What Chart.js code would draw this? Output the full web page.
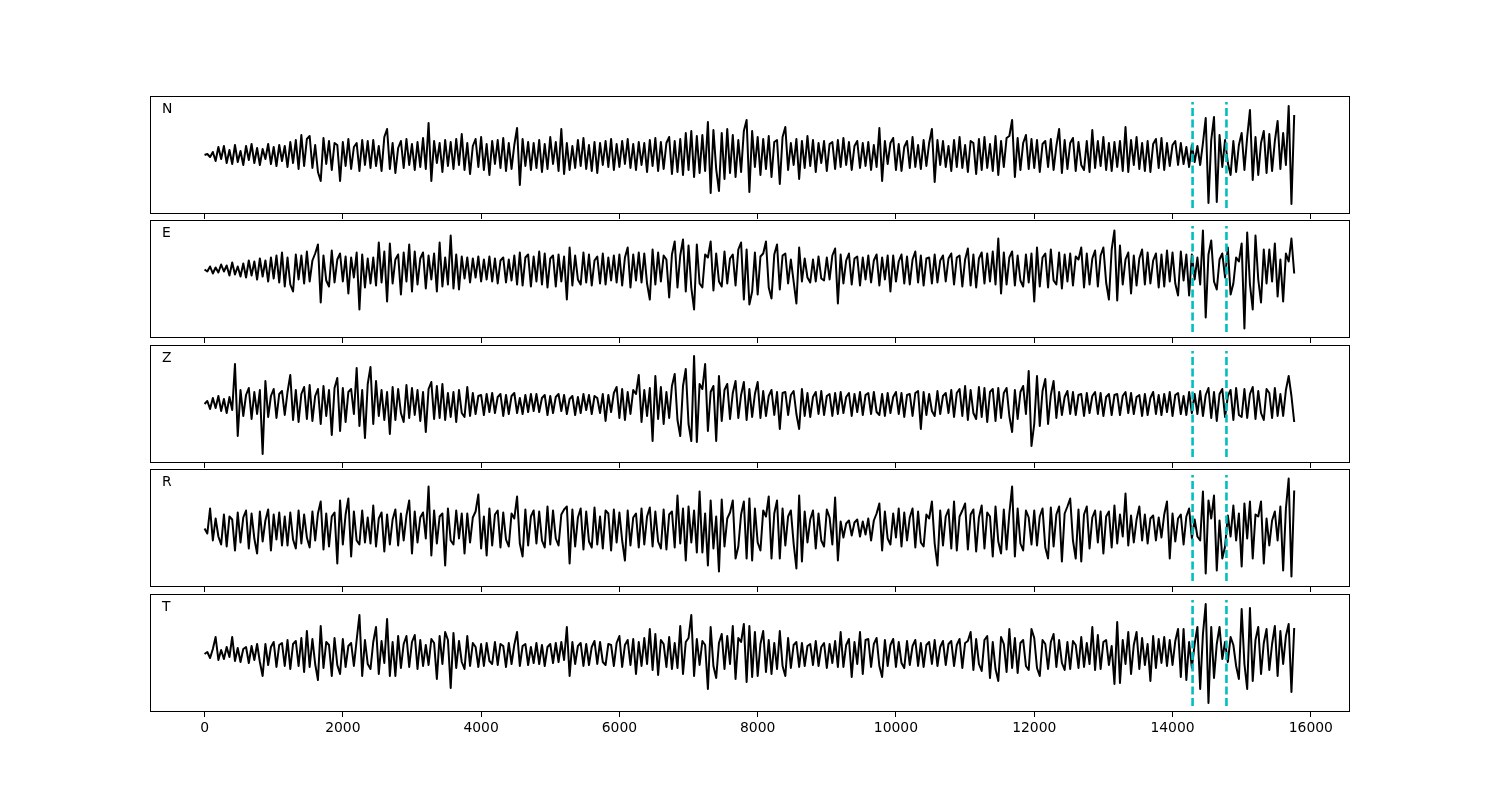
<!DOCTYPE html>
<html>
<head>
<meta charset="utf-8">
<script src="https://cdn.jsdelivr.net/npm/chart.js@4.4.1/dist/chart.umd.min.js"></script>
<style>
  body { margin: 0; background: #fff; }
  #wrap { position: relative; width: 1500px; height: 800px; }
  #wrap canvas { position: absolute; left: 0; }
</style>
</head>
<body>
<div id="wrap"></div>
<script>
// samples between stored points
const sampleStep = 40;
const tickValues = [0, 2000, 4000, 6000, 8000, 10000, 12000, 14000, 16000];
// picks (dashed cyan)
const pickTimes = [14290, 14780];
const channelNames = ['N', 'E', 'Z', 'R', 'T'];

// trace amplitudes, one value every 40 samples
const traceN = [
  0, 1, -2, 3, -6, 8, -4, 9, -8, 5, -9, 10, -7, 4, -10, 9, -5, 11, -8, 7, -10, 6, -4, 11, -9, 8, -11, 10, -6, 9,
  -12, 13, -8, 15, -14, 20, -11, 16, 19, -13, 10, -17, -26, 17, -9, 14, -15, 12, 10, -26, 13, -11, 16, -14, 8, 12, -16, 15, -10, 14,
  -13, 15, -11, 9, -16, 18, 26, -14, 12, -18, 7, 14, -13, 16, -10, 11, -15, 13, -12, 17, -14, 32, -26, 14, -8, 12, -17, 15, -11, 13,
  -14, 16, -10, 21, -15, 12, -19, 9, 16, -12, 18, -15, 11, -20, 14, -9, 15, -13, 17, -16, 12, -14, 10, 27, -30, 16, -11, 13, -15, 12,
  -13, 15, -17, 11, -14, 18, -9, 13, -16, 26, -19, 12, -15, 9, -13, 15, -11, 17, -14, 10, -16, 13, -18, 12, -10, 14, -12, 16, -15, 11,
  -12, 14, -9, 16, -13, 11, -15, 13, -10, 12, -17, 15, -11, 17, -16, 13, -14, 12, 18, -19, 14, -17, 16, -20, 22, -15, 24, -22, 19, -18,
  20, -16, 33, -38, 25, -14, -36, 22, -24, 26, -18, 20, -22, 15, -17, 24, 35, -37, 24, -12, 18, -20, 16, -14, 19, -22, 13, 15, -29, 18,
  28, -15, 12, -10, 16, -24, 14, -13, 19, -11, 15, -17, 12, -8, 14, -16, 11, 13, -14, 15, -12, 17, -10, 13, -15, 9, 14, -13, 12, -11,
  13, -15, 10, -12, 27, -26, 14, -9, 12, 17, -15, 11, -16, 8, 14, -13, 18, -12, 10, -14, 15, -11, 12, 26, -27, 15, -10, 14, -12, 9,
  -16, 15, -12, 18, -13, 10, -17, 14, 12, -19, 16, -15, 18, -13, 11, -16, 19, -20, 14, -12, 17, 19, 35, -22, 17, -15, 12, 20, -14, 16,
  -13, 15, -17, 11, 14, -12, 16, -15, 9, 26, -18, 15, -14, 12, 17, -16, 13, -10, -15, 14, -17, 25, -13, 14, -11, 18, -15, 12, -16, 13,
  -12, 14, -16, 28, -17, 15, -10, 18, -14, 12, -16, 14, -17, 11, 16, -13, 17, -15, 12, -11, 10, 14, -10, 12, -9, 8, -12, 10, -7, 9,
  -10, 12, 37, -48, 15, 38, -47, 20, -12, 15, -8, -20, 14, -17, 10, 22, -15, 18, 45, -25, 18, -20, 12, 24, -18, 21, -16, 14, 34, -14,
  22, -10, 49, -49, 40
];
const traceE = [
  0, -2, 3, -4, 2, -3, 5, -2, 4, -6, 7, -5, 3, -7, 6, -8, 9, -6, 8, -10, 11, -7, 9, -12, 12, -9, 14, -13, 17, -17,
  12, -15, -22, 15, -10, 14, -14, 18, -12, 9, 16, 25, -33, 14, -11, -17, 19, -13, 10, 16, -12, 13, -24, 12, -8, 17, -40, 15, -18, 11,
  -14, 12, -16, 27, -13, 18, -32, 26, -14, 10, 15, -25, 17, -12, 25, -22, 18, -15, 11, 17, -19, 14, -10, 16, -22, 27, -17, 12, -15, 34,
  -19, 15, -20, 13, -9, 12, -13, 11, -8, 13, -12, 10, -10, 13, -12, 11, -14, 9, 12, -13, 10, -11, 14, -15, 17, -16, 12, 15, -17, 13,
  -12, 18, -15, 16, -18, 11, 14, -17, 15, -12, 13, -30, 22, -16, 14, -10, -15, 17, -13, 15, -16, 9, 13, -14, 16, -15, 12, -11, 14, -13,
  15, -16, 12, 22, -18, 15, -11, 17, -13, 16, -14, -30, 20, -15, 17, -12, 14, 10, -28, 15, 28, -18, 14, 30, -22, 24, -18, -40, 25, -14,
  -18, 15, 12, 28, -21, 16, -12, -17, 18, -14, 11, 15, -16, 20, 27, -30, 20, -35, -22, 17, -25, 13, 16, 28, -18, -29, 15, 25, -20, 14,
  16, -14, 10, -12, -34, 22, -12, 11, -8, -13, 10, -12, 13, -9, -11, 12, -10, 14, 21, -34, 15, -14, 9, 16, -15, 11, 13, -16, 12, -10,
  14, -13, 9, 15, -16, 12, -10, 14, -22, 14, -12, 8, 15, -14, 13, -15, 10, 18, -13, 14, -16, 11, 12, -14, 15, -13, 9, 14, -12, 11,
  16, -15, 12, 14, -17, 10, 21, -16, 15, -18, 11, 17, -14, 16, -12, 18, -15, 31, -24, 17, -15, 12, 18, -16, 14, -11, -17, 15, -13, 16,
  -32, 22, -17, 12, 16, -18, 20, -11, -15, 17, -19, 15, -12, 16, -16, 13, 10, 22, -18, 16, -15, 11, 19, -17, 14, 22, -13, -30, 20, 39,
  -31, 24, -15, 10, 17, -24, 14, -16, 11, 20, -15, 17, -14, 9, 16, -18, 15, -17, 19, -12, 17, -14, -26, 18, -11, 15, -26, 15, -10, 12,
  -15, 39, -48, 15, 29, -12, -20, 10, 16, -8, 22, -25, -14, 12, 8, 26, -59, 37, -15, -40, 34, -10, -33, 20, -14, 20, -12, 26, -27, 10,
  -32, 16, 8, 31, -4
];
const traceZ = [
  0, 3, -5, 6, -4, 8, -7, 5, -9, 7, -6, 40, -32, 14, -12, 9, 16, -15, 12, -10, 14, -50, 23, -13, 8, 15, -14, 10, 13, -11,
  12, 29, -16, 14, -18, 10, 17, -15, 19, -17, 8, 15, -20, 18, -12, 14, -31, 16, 26, -27, 16, -18, 12, 15, -10, 36, -22, 14, -34, 20,
  37, -20, 23, -12, 14, -16, 12, -30, 17, -16, 15, -9, -18, 19, -14, 16, -11, 14, -17, 12, -28, 15, 22, -15, 18, -14, 20, -16, 11, -13,
  12, -18, 14, -9, -13, 17, -12, 11, -10, 8, 9, -11, 10, -8, 11, -9, 7, 10, -12, 9, -10, 8, 11, -9, 6, -10, 9, -8, 10, -7,
  10, -8, 6, 9, -11, 8, -9, 7, 10, -7, 9, -10, 5, 8, -11, 7, -9, 10, -6, 9, -10, 8, 6, -9, 10, -17, 9, -8, 11, 17,
  -14, 15, -16, 12, -10, 14, 10, 29, -18, 14, -12, 16, -37, 28, -15, 17, -20, 12, -14, 18, 30, -16, -32, 18, 35, -20, -37, 48, -38, 20,
  15, 40, -27, 12, 18, -37, 28, -17, 14, 20, -15, 11, 23, -14, 9, 22, -16, 15, -13, 10, 22, -14, 13, -12, 8, 14, -11, 12, -25, 11,
  12, -11, 9, 13, -10, -25, 15, -12, 11, -13, 7, 12, -10, 13, -11, 8, 10, -12, 11, -10, 12, -9, 7, 11, -12, 10, -8, 12, -11, 9,
  11, -10, 12, -8, -11, 10, -12, 11, -9, 7, 12, -10, 11, -13, 9, 10, -12, 11, 13, -25, 12, -11, 10, -7, -12, 13, -10, 8, 11, -9,
  14, -13, 11, 15, -12, 18, -16, 14, -9, -15, 17, -13, 16, -18, 12, 15, -17, 16, -14, 11, 16, -12, -28, 14, -15, 12, 18, -10, 33, -42,
  -20, 28, -22, 13, 25, -20, 9, 23, -14, 12, -11, 7, 13, -10, 12, -11, 9, 10, -12, 11, -9, 8, 12, -10, 11, -12, 7, 10, -11, 9,
  10, -11, 8, 12, -9, 11, -10, 7, 9, -12, 10, -11, 6, 12, -10, 9, -11, 10, -8, 12, -12, 9, 11, -10, 8, -11, 12, -9, 10, -10,
  13, -12, 9, 16, -14, 12, -17, 10, 15, -13, 8, 14, -16, 16, -11, -13, 15, -14, 10, 17, -15, 13, -9, -16, 15, 11, -14, 16, -12, 10,
  -12, 14, 28, 8, -18
];
const traceR = [
  0, -5, 20, -12, 10, -8, -16, 14, -18, 12, 9, -22, 16, -14, 11, 18, -20, 15, -10, -25, 17, -13, 8, 19, -22, 14, -11, 16, -17, 12,
  -17, 16, -11, -20, 18, -15, 14, -9, -19, 17, -12, 15, 27, -21, 15, -18, 12, 16, -35, 28, -16, 14, 30, -28, 17, -12, -16, 18, -14, 11,
  -15, 23, -18, 10, 16, -23, 14, -16, 9, 19, -17, 15, -12, 13, 28, -25, 17, -14, 11, 16, -10, 42, -27, 18, -15, 12, 15, -37, 20, -12,
  -16, 18, -10, 15, -25, 15, -14, 11, 17, 34, -20, 12, -27, 20, -17, 14, 18, -19, 16, -11, -18, 15, 10, 32, -15, -28, 19, -17, 12, 18,
  -15, 17, -12, -19, 22, -16, 18, -10, -17, 14, 19, 22, -35, 19, -18, 11, 20, -21, 17, -13, -19, 21, -16, 12, -20, 18, 15, -22, 19, -14,
  16, -12, -32, 18, -17, 11, 15, -19, 20, -16, 12, 21, -18, 17, -13, -20, 19, -21, 14, 17, -19, 33, -15, 20, -32, 22, -14, 18, -24, 37,
  -24, 15, -37, 28, -20, 12, -43, 29, -18, 10, 16, 28, -30, -18, 14, 27, -30, 30, -32, 20, -14, -22, 18, 12, 32, -30, 15, 28, -30, 20,
  -17, 12, 18, -15, -40, 33, -33, 17, -14, 9, 18, -20, 15, -12, -18, 19, 11, -16, 31, -32, 7, -9, 5, 8, -7, 6, 9, -8, 7, -6,
  10, -12, 8, 15, 25, -22, 17, -10, -16, 15, -9, 20, -18, 16, -12, 11, 20, -19, 17, -14, -18, 14, 10, 27, -15, -37, 18, -17, 12, 19,
  -20, 27, -22, 12, 18, 25, -21, 14, 19, -23, 11, 23, -20, 16, 12, -28, 22, -13, -25, 19, -21, 15, 42, -28, 20, -15, -22, 18, 11, -16,
  18, -17, 12, 20, -19, -30, 21, -18, 14, 22, -33, 15, 22, 30, -12, -30, 19, -33, 14, 22, -20, 11, 18, -14, 17, -25, 12, 17, -19, 23,
  -15, 14, -8, 35, -17, 13, -14, 9, 22, -12, 14, -15, 10, 13, -12, 11, -9, 14, 27, -30, 15, -13, 10, 14, -16, 12, 20, -10, 9, -8,
  -12, 37, -45, 28, 10, 33, -42, 8, -30, -18, 13, -8, 23, -12, 15, -38, 25, -10, 27, -30, 14, 12, 27, -35, 10, -17, 8, 17, -12, 22,
  -42, 20, 50, -48, 38
];
const traceT = [
  0, 2, -4, 5, 17, -6, 4, -5, 7, -3, 17, -7, 6, -8, 5, 7, -9, 8, -6, 10, -8, -22, 10, -11, 7, 12, -13, 9, 11, -12,
  14, -15, 10, 13, -12, 16, -18, 23, -13, 15, -10, -26, 28, -14, 12, 9, -22, 16, -11, -20, 15, -13, 8, 11, -12, 14, 39, -22, 14, -10,
  -15, 12, 27, -20, 13, -9, 35, -22, 12, -22, 18, -14, 10, 18, -13, 12, 19, -15, 14, -12, 9, -11, 15, 11, -25, 18, -10, 22, 14, -34,
  21, -14, 13, -8, -15, 18, -12, 11, 7, -13, 10, -12, 11, -7, -10, 12, -11, 10, 8, -13, 11, -10, 9, 22, -12, 8, 10, -11, 7, -9,
  11, -10, 9, -12, 7, 10, -9, 11, -8, 12, -6, 27, -22, 12, -10, 8, 11, -12, 10, -11, 7, 13, -10, 12, -8, -11, 10, 9, -12, 11,
  18, -13, 9, 14, -11, 15, -20, 12, -12, 16, -10, 25, -16, 20, -21, 14, 10, -13, 17, -15, 11, -14, 28, -20, 12, 16, 39, -22, 15, -11,
  13, 9, -35, 27, -12, -24, 11, 20, -15, 18, -10, 28, -25, 16, 12, 30, -28, 28, -23, 22, -22, 10, 23, -18, 14, -20, 11, -15, 23, -12,
  -22, 16, -14, 9, 12, -13, 11, -12, 8, 10, -11, 13, -12, 7, 11, -14, 10, -9, 13, -13, 22, -13, 9, 15, -23, 12, -10, 22, -20, 14,
  15, -13, 10, 16, -12, -23, 14, -12, 9, 15, -13, 12, -9, -14, 13, -11, 8, 14, -12, 11, -13, 9, 12, -10, 14, -12, 7, 13, -11, 10,
  13, -12, 9, 15, -14, 11, 13, 22, -16, 15, -10, -17, 14, 18, -24, 12, -15, -27, 17, 10, -18, 25, -14, 16, -19, 11, 14, -12, -16, 25,
  16, -14, -22, 14, 10, -15, 12, 20, -13, 14, -9, -16, 12, -15, 13, 9, -14, 17, -13, 11, -10, 27, -16, 19, -15, 12, 14, -11, 8, -30,
  32, -29, 14, -10, 22, -20, 9, 22, -15, 16, -11, 10, -27, 18, -14, 15, -9, 17, -12, 14, -11, 13, 25, -23, 25, -26, 12, -14, 10, 27,
  -35, 20, 50, -49, 27, -24, 10, 27, -5, 12, -8, 17, 9, -12, -25, 45, -10, -35, 46, -27, 14, 27, -20, 11, 25, -16, 10, 28, -22, 23,
  -10, 18, 30, -38, 26
];

const traces = [traceN, traceE, traceZ, traceR, traceT];
// per-panel amplitude limits and page position of each axes box
const yLimits = [[-59, 59], [-68.5, 49.5], [-59, 59], [-58.5, 59.5], [-58, 60]];
const panelTops = [96, 220, 345, 469, 594];
const PANEL_H = 118;
const PAD_TOP = 5;
const AXIS_H = 40;

// box around each panel plus the channel letter
const framePlugin = {
  id: 'frame',
  afterDraw(chart, args, opts) {
    const ca = chart.chartArea;
    const ctx = chart.ctx;
    ctx.save();
    ctx.strokeStyle = '#000';
    ctx.lineWidth = 1;
    ctx.strokeRect(ca.left + 0.5, ca.top + 0.5, ca.width - 1, ca.height - 1);
    ctx.fillStyle = '#000';
    ctx.font = '13.9px "DejaVu Sans"';
    ctx.textBaseline = 'alphabetic';
    ctx.fillText(opts.label, ca.left + 12, ca.top + 17);
    ctx.restore();
  }
};

const wrap = document.getElementById('wrap');

traces.forEach((values, i) => {
  const canvas = document.createElement('canvas');
  canvas.width = 1500;
  canvas.height = PANEL_H + PAD_TOP + AXIS_H;
  canvas.style.top = (panelTops[i] - PAD_TOP) + 'px';
  wrap.appendChild(canvas);

  const [yMin, yMax] = yLimits[i];
  const lo = yMin + 0.05 * (yMax - yMin);
  const hi = yMax - 0.05 * (yMax - yMin);
  const isBottom = i === traces.length - 1;

  const pickSets = pickTimes.map(t => ({
    data: [{ x: t, y: lo }, { x: t, y: hi }],
    borderColor: '#00bfbf',
    borderWidth: 2.6,
    borderDash: [8, 3.5],
    pointRadius: 0,
    order: 0
  }));

  new Chart(canvas, {
    type: 'line',
    data: {
      datasets: [
        ...pickSets,
        {
          data: values.map((v, k) => ({ x: k * sampleStep, y: v })),
          borderColor: '#000',
          borderWidth: 2,
          borderJoinStyle: 'round',
          pointRadius: 0,
          tension: 0,
          order: 1
        }
      ]
    },
    options: {
      responsive: false,
      animation: false,
      devicePixelRatio: 1,
      layout: { padding: { top: PAD_TOP, left: 150, right: 150, bottom: 0 } },
      plugins: {
        legend: { display: false },
        tooltip: { enabled: false },
        frame: { label: channelNames[i] }
      },
      scales: {
        x: {
          type: 'linear',
          min: -789,
          max: 16567,
          afterFit: s => { s.height = AXIS_H; },
          afterBuildTicks: s => { s.ticks = tickValues.map(v => ({ value: v })); },
          grid: { drawOnChartArea: false, drawTicks: true, tickLength: 5, color: '#000', lineWidth: 1 },
          border: { display: false },
          ticks: {
            display: isBottom,
            color: '#000',
            font: { family: 'DejaVu Sans', size: 13.9 },
            padding: 3,
            maxRotation: 0,
            autoSkip: false,
            callback: v => String(v)
          }
        },
        y: { display: false, min: yMin, max: yMax }
      }
    },
    plugins: [framePlugin]
  });
});
</script>
</body>
</html>
